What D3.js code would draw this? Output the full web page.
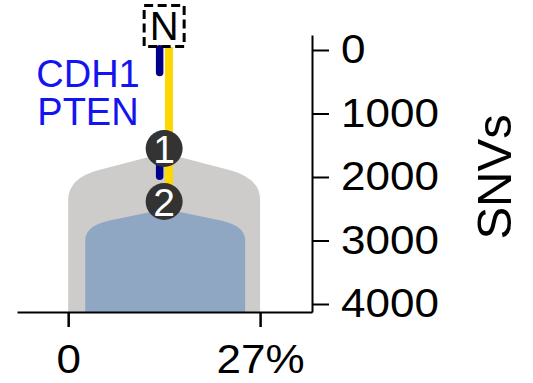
<!DOCTYPE html>
<html>
<head>
<meta charset="utf-8">
<script src="https://cdn.jsdelivr.net/npm/d3@7"></script>
<style>
  html, body { margin: 0; padding: 0; background: #fff; }
  svg { display: block; font-family: "Liberation Sans", Arial, sans-serif; }
</style>
</head>
<body>
<svg id="chart" width="533" height="383"></svg>
<script>
// ---- data ----
const xTickValues = [0, 27];
const xTickLabels = ["0", "27%"];
const yTickValues = [0, 1000, 2000, 3000, 4000];

const cloneNames = ["1", "2"];
const cloneLeftCCF = [0, 2.4];
const cloneRightCCF = [27, 24.9];
const cloneApexSNV = [1622, 2504];
const cloneShoulderSNV = [2362, 2992];
const cloneColors = ["#cdcccb", "#8fa7c2"];

const nodeNames = ["N", "1", "2"];
const nodeSNV = [-378, 1551, 2386];
const treeCenterCCF = 13.5;

const trunkSNV = [-47, 2386];
const driverSegmentsSNV = [[-20, 355], [1575, 1990]];
const driverGenes = ["CDH1", "PTEN"];

// ---- scales ----
const x = d3.scaleLinear().domain([-7.2, 34.3]).range([17, 312]);
const y = d3.scaleLinear().domain([-236, 4126]).range([35, 312]);

const svg = d3.select("#chart");

function stretch(sel, f) {
  sel.each(function () {
    const len = this.getComputedTextLength();
    d3.select(this).attr("textLength", len * f).attr("lengthAdjust", "spacingAndGlyphs");
  });
}

// ---- clone shapes ----
const shapes = cloneNames.map((n, i) => ({
  name: n, l: cloneLeftCCF[i], r: cloneRightCCF[i],
  apex: cloneApexSNV[i], shoulder: cloneShoulderSNV[i], color: cloneColors[i]
}));

function clonePath(d) {
  const xl = x(d.l), xr = x(d.r), xc = (xl + xr) / 2;
  const ya = y(d.apex), ys = y(d.shoulder), yb = y(y.domain()[1]);
  const w = xr - xl;
  const cx1 = xl + w * 0.16, cx2 = xr - w * 0.16;
  const cy = ya + (ys - ya) * 0.36;
  const qy = ya + (ys - ya) * 0.53;
  const p = d3.path();
  p.moveTo(xl, yb);
  p.lineTo(xl, ys);
  p.quadraticCurveTo(xl, qy, cx1, cy);
  p.lineTo(xc, ya);
  p.lineTo(cx2, cy);
  p.quadraticCurveTo(xr, qy, xr, ys);
  p.lineTo(xr, yb);
  p.closePath();
  return p.toString();
}

svg.append("g").selectAll("path").data(shapes).join("path")
  .attr("d", clonePath)
  .attr("fill", d => d.color);

// ---- axes ----
const yAxis = d3.axisRight(y).tickValues(yTickValues).tickSize(17).tickSizeOuter(0).tickPadding(12)
  .tickFormat(d3.format("d"));
const gy = svg.append("g").attr("transform", `translate(${x(x.domain()[1])},0)`).call(yAxis);
gy.select(".domain").attr("stroke", "#000").attr("stroke-width", 2);
gy.selectAll(".tick line").attr("stroke", "#000").attr("stroke-width", 2);
gy.selectAll(".tick text").attr("font-size", 40).attr("fill", "#000")
  .attr("font-family", "Liberation Sans, Arial, sans-serif").call(stretch, 1.1);

const xAxis = d3.axisBottom(x).tickValues(xTickValues).tickSize(15).tickSizeOuter(0).tickPadding(18)
  .tickFormat((d, i) => xTickLabels[i]);
const gx = svg.append("g").attr("transform", `translate(0,${y(y.domain()[1])})`).call(xAxis);
gx.select(".domain").attr("stroke", "#000").attr("stroke-width", 2);
gx.selectAll(".tick line").attr("stroke", "#000").attr("stroke-width", 2.5);
gx.selectAll(".tick text").attr("font-size", 40).attr("fill", "#000")
  .attr("font-family", "Liberation Sans, Arial, sans-serif").call(stretch, 1.1);

svg.append("text")
  .attr("transform", `translate(511,${y(2000)}) rotate(-90)`)
  .attr("text-anchor", "middle")
  .attr("font-size", 49)
  .attr("fill", "#000")
  .text("SNVs");

// ---- tree ----
const xc = x(treeCenterCCF);
const tree = svg.append("g");
tree.append("line")
  .attr("x1", xc + 4.8).attr("x2", xc + 4.8)
  .attr("y1", y(trunkSNV[0])).attr("y2", y(trunkSNV[1]))
  .attr("stroke", "#ffd700").attr("stroke-width", 8);

tree.selectAll("line.drv").data(driverSegmentsSNV).join("line")
  .attr("class", "drv")
  .attr("x1", xc - 4.5).attr("x2", xc - 4.5)
  .attr("y1", d => y(d[0])).attr("y2", d => y(d[1]))
  .attr("stroke", "#00008b").attr("stroke-width", 7.5).attr("stroke-linecap", "round");

// gene labels
svg.append("g").selectAll("text").data(driverGenes).join("text")
  .attr("x", 88)
  .attr("y", (d, i) => 87 + i * 38)
  .attr("text-anchor", "middle")
  .attr("font-size", 38)
  .attr("fill", "#1414f0")
  .text(d => d);

// normal node
const nY = y(nodeSNV[0]);
tree.append("rect")
  .attr("x", xc - 20).attr("y", nY - 20.5).attr("width", 40).attr("height", 41)
  .attr("fill", "none").attr("stroke", "#000").attr("stroke-width", 3)
  .attr("stroke-dasharray", "9 4.5");
tree.append("text")
  .attr("x", xc).attr("y", nY).attr("dy", "0.36em")
  .attr("text-anchor", "middle").attr("font-size", 40).attr("fill", "#000")
  .text(nodeNames[0]);

const nodes = nodeNames.slice(1).map((n, i) => ({ name: n, snv: nodeSNV[i + 1] }));
const ng = tree.selectAll("g.node").data(nodes).join("g")
  .attr("class", "node")
  .attr("transform", d => `translate(${xc},${y(d.snv)})`);
ng.append("circle").attr("r", 18.5).attr("fill", "#333333");
ng.append("text").attr("dy", "0.36em").attr("text-anchor", "middle")
  .attr("font-size", 39).attr("fill", "#fff").text(d => d.name);
</script>
</body>
</html>
